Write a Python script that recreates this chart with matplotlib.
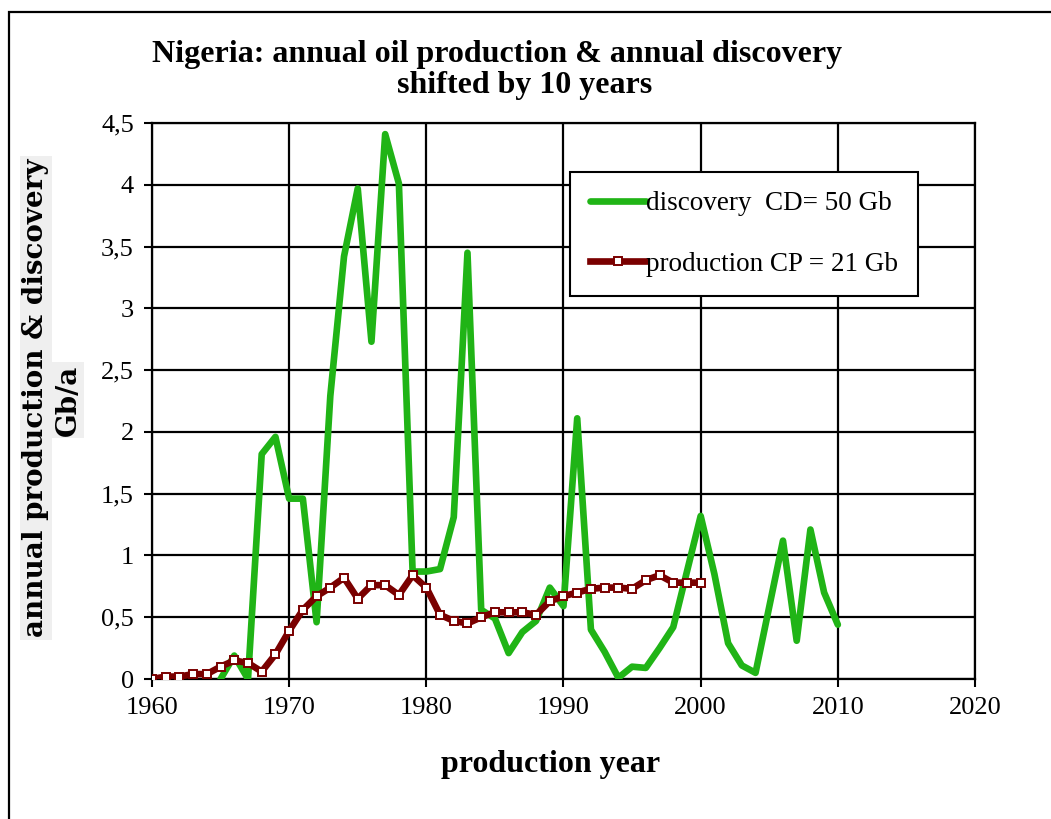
import matplotlib
matplotlib.use("Agg")
import matplotlib.pyplot as plt
from matplotlib.ticker import FuncFormatter, MultipleLocator
from matplotlib.patches import Rectangle

# production (Gb/a), 1960-2000
prod_years = list(range(1960, 2001))
prod = [0.00, 0.02, 0.02, 0.04, 0.04, 0.10, 0.15, 0.13, 0.06, 0.20,
        0.39, 0.56, 0.67, 0.74, 0.82, 0.65, 0.76, 0.76, 0.68, 0.84,
        0.74, 0.52, 0.47, 0.45, 0.50, 0.54, 0.54, 0.54, 0.52, 0.63,
        0.67, 0.70, 0.73, 0.74, 0.74, 0.73, 0.80, 0.84, 0.78, 0.78,
        0.78]

# discovery shifted by 10 years (Gb/a)
disc_years = [1965, 1966, 1967, 1968, 1969, 1970, 1971, 1972, 1973, 1974,
              1975, 1976, 1977, 1978, 1979, 1980, 1981, 1982, 1983, 1984,
              1985, 1986, 1987, 1988, 1989, 1990, 1991, 1992, 1993, 1994,
              1995, 1996, 1997, 1998, 2000, 2001, 2002, 2003, 2004, 2006,
              2007, 2008, 2009, 2010]
disc = [0.00, 0.19, 0.00, 1.82, 1.96, 1.46, 1.46, 0.46, 2.29, 3.42,
        3.97, 2.73, 4.41, 4.01, 0.87, 0.87, 0.89, 1.31, 3.45, 0.56,
        0.49, 0.21, 0.38, 0.47, 0.74, 0.59, 2.11, 0.40, 0.22, 0.01,
        0.10, 0.09, 0.25, 0.42, 1.32, 0.85, 0.29, 0.11, 0.05, 1.12,
        0.31, 1.21, 0.70, 0.44]

disc_label = "discovery  CD= 50 Gb"
prod_label = "production CP = 21 Gb"

serif = "Liberation Serif"
green = "#20b416"
darkred = "#7a0000"

fig = plt.figure(figsize=(10.51, 8.19), dpi=100)
ax = fig.add_axes([0.1446, 0.1709, 0.7831, 0.6789])

ax.plot(disc_years, disc, color=green, lw=4.8, solid_capstyle="round",
        zorder=3, label=disc_label)
ax.plot(prod_years, prod, color=darkred, lw=4.8, marker="s", ms=6,
        mfc="white", mec=darkred, mew=1.4, zorder=4, label=prod_label)

ax.set_xlim(1960, 2020)
ax.set_ylim(0, 4.5)
ax.xaxis.set_major_locator(MultipleLocator(10))
ax.yaxis.set_major_locator(MultipleLocator(0.5))
ax.yaxis.set_major_formatter(FuncFormatter(lambda v, p: ("%g" % v).replace(".", ",")))
ax.grid(True, color="black", lw=1.6)
ax.set_axisbelow(True)
for s in ax.spines.values():
    s.set_linewidth(1.6)
ax.tick_params(direction="out", length=6, width=1.5, labelsize=19, pad=7)
for lab in ax.get_xticklabels() + ax.get_yticklabels():
    lab.set_family(serif)

ax.set_xlabel("production year", family=serif, fontsize=23, fontweight="bold")
ax.xaxis.set_label_coords((551 - 152) / 823, -0.128)

fig.text(0.473, 1 - 70 / 819, "Nigeria: annual oil production & annual discovery\n       shifted by 10 years",
         ha="center", va="center", family=serif, fontsize=23, fontweight="bold",
         linespacing=1.12)

# y label, two lines with light grey background
fig.text(36 / 1051, 1 - 398 / 819, "annual production & discovery", rotation=90,
         ha="center", va="center", family="DejaVu Serif", fontsize=20,
         fontweight="bold", bbox=dict(facecolor="#efefef", edgecolor="none", pad=2))
fig.text(68 / 1051, 1 - 400 / 819, "Gb/a", rotation=90,
         ha="center", va="center", family="DejaVu Serif", fontsize=20,
         fontweight="bold", bbox=dict(facecolor="#efefef", edgecolor="none", pad=2))

leg = ax.legend(loc="upper left", bbox_to_anchor=(0.508, 0.912), fancybox=False,
                edgecolor="black", framealpha=1, prop={"family": serif, "size": 19.5},
                handlelength=2.1, handletextpad=0.0, labelspacing=1.3,
                borderpad=0.72, borderaxespad=0)
leg.get_frame().set_linewidth(1.5)

# outer frame
fig.patches.append(Rectangle((9 / 1051, -0.02), 1.1, 1 - 12 / 819 + 0.02,
                             transform=fig.transFigure, fill=False,
                             edgecolor="black", lw=1.6))

fig.savefig("out.png", dpi=100)
